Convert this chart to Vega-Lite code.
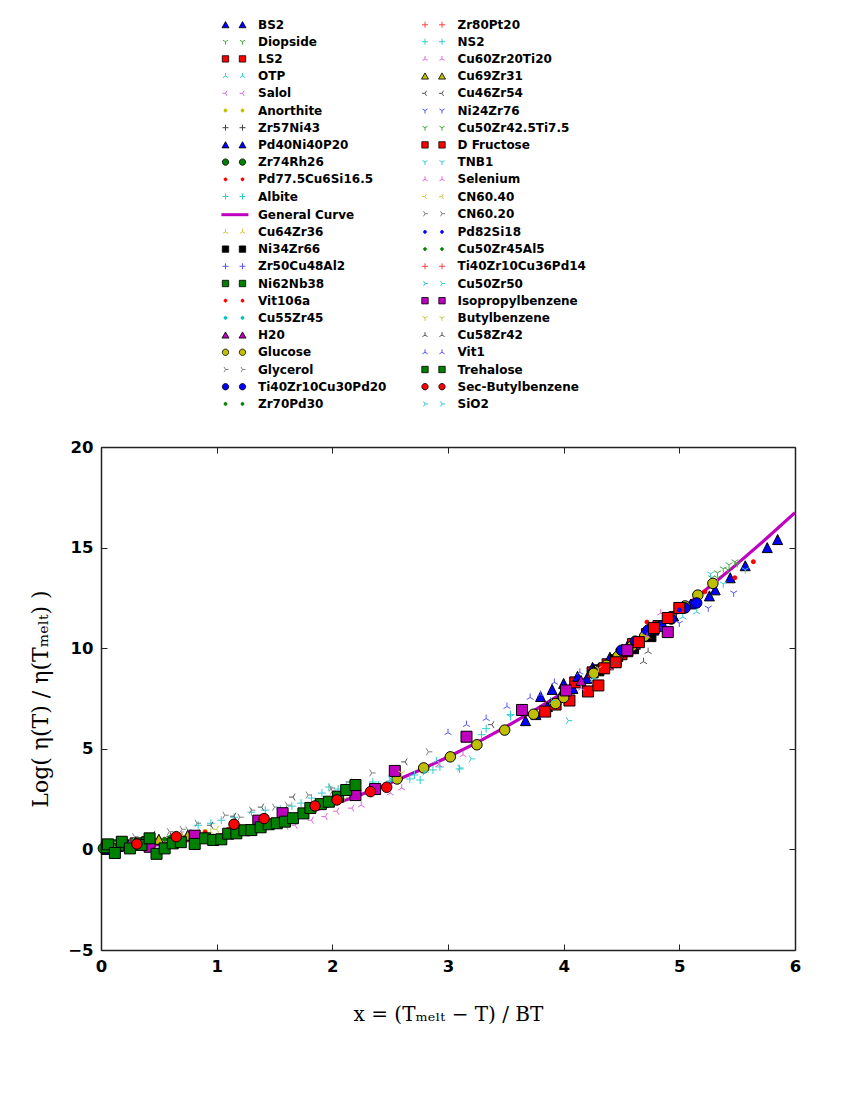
{
  "$schema": "https://vega.github.io/schema/vega-lite/v6.json",
  "width": 694,
  "height": 503,
  "autosize": {"type": "none"},
  "padding": {"left": 101, "top": 447, "right": 63, "bottom": 160},
  "background": "white",
  "data": {"values": [
    {"series":"BS2","x":3.67,"y":6.4},{"series":"BS2","x":3.76,"y":6.7},{"series":"BS2","x":3.86,"y":7.1},{"series":"BS2","x":3.97,"y":7.6},{"series":"BS2","x":4.08,"y":8.0},{"series":"BS2","x":4.2,"y":8.5},{"series":"BS2","x":4.33,"y":9.0},{"series":"BS2","x":4.47,"y":9.6},{"series":"BS2","x":4.62,"y":10.3},{"series":"BS2","x":4.78,"y":10.9},{"series":"BS2","x":4.95,"y":11.6},{"series":"BS2","x":5.1,"y":12.2},{"series":"BS2","x":5.26,"y":12.6},{"series":"BS2","x":5.31,"y":12.9},{"series":"BS2","x":5.44,"y":13.5},{"series":"BS2","x":5.57,"y":14.1},{"series":"BS2","x":5.76,"y":15.0},{"series":"BS2","x":5.85,"y":15.4},
    {"series":"Diopside","x":5.28,"y":13.5},{"series":"Diopside","x":5.33,"y":13.75},{"series":"Diopside","x":5.38,"y":13.95},{"series":"Diopside","x":5.43,"y":14.15},{"series":"Diopside","x":5.48,"y":14.3},{"series":"Diopside","x":4.6,"y":10.4},{"series":"Diopside","x":4.75,"y":11.1},
    {"series":"LS2","x":3.84,"y":6.85},{"series":"LS2","x":3.93,"y":7.2},{"series":"LS2","x":4.05,"y":7.4},{"series":"LS2","x":4.21,"y":7.85},{"series":"LS2","x":4.3,"y":8.15},{"series":"LS2","x":4.1,"y":8.3},{"series":"LS2","x":4.25,"y":8.8},{"series":"LS2","x":4.38,"y":9.2},{"series":"LS2","x":4.5,"y":9.7},{"series":"LS2","x":4.6,"y":10.2},{"series":"LS2","x":4.72,"y":10.7},{"series":"LS2","x":4.82,"y":11.1},
    {"series":"OTP","x":4.6,"y":10.0},{"series":"OTP","x":4.85,"y":10.9},{"series":"OTP","x":5.03,"y":11.55},{"series":"OTP","x":5.15,"y":11.8},{"series":"OTP","x":2.4,"y":3.2},{"series":"OTP","x":2.9,"y":4.4},
    {"series":"Salol","x":1.6,"y":1.15},{"series":"Salol","x":1.68,"y":1.2},{"series":"Salol","x":1.82,"y":1.45},{"series":"Salol","x":1.94,"y":1.63},{"series":"Salol","x":2.04,"y":1.9},{"series":"Salol","x":2.17,"y":2.05},
    {"series":"Anorthite","x":0.2,"y":0.3},{"series":"Anorthite","x":0.5,"y":0.55},{"series":"Anorthite","x":0.9,"y":0.9},{"series":"Anorthite","x":1.2,"y":1.15},{"series":"Anorthite","x":4.4,"y":9.4},{"series":"Anorthite","x":4.9,"y":11.5},
    {"series":"Zr57Ni43","x":0.05,"y":0.2},{"series":"Zr57Ni43","x":0.15,"y":0.3},{"series":"Zr57Ni43","x":0.3,"y":0.45},{"series":"Zr57Ni43","x":0.45,"y":0.5},{"series":"Zr57Ni43","x":0.6,"y":0.65},
    {"series":"Pd40Ni40P20","x":3.8,"y":7.6},{"series":"Pd40Ni40P20","x":3.9,"y":7.95},{"series":"Pd40Ni40P20","x":4.0,"y":8.25},{"series":"Pd40Ni40P20","x":4.12,"y":8.6},{"series":"Pd40Ni40P20","x":4.25,"y":9.05},{"series":"Pd40Ni40P20","x":4.4,"y":9.55},{"series":"Pd40Ni40P20","x":4.55,"y":10.1},{"series":"Pd40Ni40P20","x":4.7,"y":10.75},{"series":"Pd40Ni40P20","x":0.05,"y":0.0},{"series":"Pd40Ni40P20","x":0.15,"y":0.15},
    {"series":"Zr74Rh26","x":0.02,"y":0.05},{"series":"Zr74Rh26","x":0.1,"y":0.15},{"series":"Zr74Rh26","x":0.2,"y":0.25},{"series":"Zr74Rh26","x":0.35,"y":0.3},
    {"series":"Pd77.5Cu6Si16.5","x":0.1,"y":0.2},{"series":"Pd77.5Cu6Si16.5","x":0.3,"y":0.35},{"series":"Pd77.5Cu6Si16.5","x":0.55,"y":0.5},{"series":"Pd77.5Cu6Si16.5","x":0.8,"y":0.75},{"series":"Pd77.5Cu6Si16.5","x":4.6,"y":10.3},{"series":"Pd77.5Cu6Si16.5","x":4.72,"y":11.3},{"series":"Pd77.5Cu6Si16.5","x":5.22,"y":12.8},{"series":"Pd77.5Cu6Si16.5","x":5.48,"y":13.5},{"series":"Pd77.5Cu6Si16.5","x":5.64,"y":14.3},
    {"series":"Albite","x":0.84,"y":1.2},{"series":"Albite","x":0.95,"y":1.3},{"series":"Albite","x":1.04,"y":1.45},{"series":"Albite","x":1.15,"y":1.6},{"series":"Albite","x":1.3,"y":1.85},{"series":"Albite","x":1.42,"y":1.95},{"series":"Albite","x":1.55,"y":2.0},{"series":"Albite","x":1.65,"y":2.15},{"series":"Albite","x":1.73,"y":2.3},{"series":"Albite","x":1.82,"y":2.55},{"series":"Albite","x":1.91,"y":2.8},{"series":"Albite","x":1.97,"y":3.1},{"series":"Albite","x":2.05,"y":3.0},{"series":"Albite","x":2.12,"y":3.1},
    {"series":"General Curve","x":0,"y":0},{"series":"General Curve","x":0.25,"y":0.09},{"series":"General Curve","x":0.5,"y":0.24},{"series":"General Curve","x":0.75,"y":0.44},{"series":"General Curve","x":1,"y":0.69},{"series":"General Curve","x":1.25,"y":0.99},{"series":"General Curve","x":1.5,"y":1.35},{"series":"General Curve","x":1.75,"y":1.76},{"series":"General Curve","x":2,"y":2.22},{"series":"General Curve","x":2.25,"y":2.73},{"series":"General Curve","x":2.5,"y":3.3},{"series":"General Curve","x":2.75,"y":3.92},{"series":"General Curve","x":3,"y":4.59},{"series":"General Curve","x":3.25,"y":5.31},{"series":"General Curve","x":3.5,"y":6.09},{"series":"General Curve","x":3.75,"y":6.92},{"series":"General Curve","x":4,"y":7.8},{"series":"General Curve","x":4.25,"y":8.73},{"series":"General Curve","x":4.5,"y":9.72},{"series":"General Curve","x":4.75,"y":10.76},{"series":"General Curve","x":5,"y":11.85},{"series":"General Curve","x":5.25,"y":13.0},{"series":"General Curve","x":5.5,"y":14.19},{"series":"General Curve","x":5.75,"y":15.44},{"series":"General Curve","x":6,"y":16.74},
    {"series":"Cu64Zr36","x":0.05,"y":0.1},{"series":"Cu64Zr36","x":0.25,"y":0.3},{"series":"Cu64Zr36","x":0.45,"y":0.45},{"series":"Cu64Zr36","x":0.7,"y":0.6},{"series":"Cu64Zr36","x":0.95,"y":0.85},
    {"series":"Ni34Zr66","x":0.1,"y":0.1},{"series":"Ni34Zr66","x":0.25,"y":0.2},{"series":"Ni34Zr66","x":0.4,"y":0.35},{"series":"Ni34Zr66","x":4.3,"y":8.9},{"series":"Ni34Zr66","x":4.45,"y":9.4},{"series":"Ni34Zr66","x":4.6,"y":10.0},{"series":"Ni34Zr66","x":4.75,"y":10.6},
    {"series":"Zr50Cu48Al2","x":0.1,"y":0.25},{"series":"Zr50Cu48Al2","x":0.3,"y":0.4},{"series":"Zr50Cu48Al2","x":0.5,"y":0.55},{"series":"Zr50Cu48Al2","x":0.7,"y":0.7},
    {"series":"Ni62Nb38","x":0.05,"y":0.1},{"series":"Ni62Nb38","x":0.15,"y":0.2},{"series":"Ni62Nb38","x":0.3,"y":0.3},{"series":"Ni62Nb38","x":0.4,"y":0.35},
    {"series":"Vit106a","x":0.2,"y":0.2},{"series":"Vit106a","x":0.4,"y":0.4},{"series":"Vit106a","x":0.65,"y":0.6},{"series":"Vit106a","x":0.9,"y":0.85},{"series":"Vit106a","x":1.1,"y":1.0},{"series":"Vit106a","x":4.35,"y":9.2},{"series":"Vit106a","x":4.55,"y":10.0},{"series":"Vit106a","x":4.8,"y":11.2},
    {"series":"Cu55Zr45","x":0.1,"y":0.2},{"series":"Cu55Zr45","x":0.35,"y":0.4},{"series":"Cu55Zr45","x":0.6,"y":0.55},{"series":"Cu55Zr45","x":0.85,"y":0.75},
    {"series":"H20","x":4.15,"y":8.4},{"series":"H20","x":4.3,"y":9.0},{"series":"H20","x":4.45,"y":9.5},{"series":"H20","x":4.62,"y":10.2},
    {"series":"Glucose","x":2.56,"y":3.5},{"series":"Glucose","x":2.79,"y":4.05},{"series":"Glucose","x":3.02,"y":4.6},{"series":"Glucose","x":3.25,"y":5.2},{"series":"Glucose","x":3.49,"y":5.93},{"series":"Glucose","x":3.74,"y":6.72},{"series":"Glucose","x":3.93,"y":7.25},{"series":"Glucose","x":4.0,"y":7.55},{"series":"Glucose","x":4.26,"y":8.75},{"series":"Glucose","x":4.37,"y":9.15},{"series":"Glucose","x":4.47,"y":9.6},{"series":"Glucose","x":4.59,"y":10.1},{"series":"Glucose","x":4.7,"y":10.6},{"series":"Glucose","x":4.82,"y":11.1},{"series":"Glucose","x":4.93,"y":11.57},{"series":"Glucose","x":5.05,"y":12.1},{"series":"Glucose","x":5.16,"y":12.64},{"series":"Glucose","x":5.29,"y":13.22},
    {"series":"Glycerol","x":0.29,"y":0.63},{"series":"Glycerol","x":0.59,"y":0.88},{"series":"Glycerol","x":0.75,"y":0.96},{"series":"Glycerol","x":0.83,"y":1.3},{"series":"Glycerol","x":1.07,"y":1.7},{"series":"Glycerol","x":1.3,"y":1.95},{"series":"Glycerol","x":1.61,"y":2.2},{"series":"Glycerol","x":1.79,"y":2.7},{"series":"Glycerol","x":1.99,"y":3.05},{"series":"Glycerol","x":2.34,"y":3.8},{"series":"Glycerol","x":2.83,"y":4.85},
    {"series":"Ti40Zr10Cu30Pd20","x":4.73,"y":10.9},{"series":"Ti40Zr10Cu30Pd20","x":4.84,"y":11.1},{"series":"Ti40Zr10Cu30Pd20","x":4.93,"y":11.45},{"series":"Ti40Zr10Cu30Pd20","x":5.05,"y":12.0},{"series":"Ti40Zr10Cu30Pd20","x":5.15,"y":12.25},{"series":"Ti40Zr10Cu30Pd20","x":4.5,"y":9.9},{"series":"Ti40Zr10Cu30Pd20","x":4.62,"y":10.35},
    {"series":"Zr70Pd30","x":0.05,"y":0.15},{"series":"Zr70Pd30","x":0.2,"y":0.3},{"series":"Zr70Pd30","x":0.4,"y":0.45},{"series":"Zr70Pd30","x":0.6,"y":0.6},
    {"series":"Zr80Pt20","x":0.05,"y":0.2},{"series":"Zr80Pt20","x":0.15,"y":0.25},{"series":"Zr80Pt20","x":0.3,"y":0.4},{"series":"Zr80Pt20","x":0.5,"y":0.5},{"series":"Zr80Pt20","x":0.7,"y":0.65},
    {"series":"NS2","x":2.2,"y":3.2},{"series":"NS2","x":2.35,"y":3.35},{"series":"NS2","x":2.5,"y":3.4},{"series":"NS2","x":2.67,"y":3.5},{"series":"NS2","x":2.71,"y":3.7},{"series":"NS2","x":2.76,"y":3.45},{"series":"NS2","x":2.87,"y":3.95},{"series":"NS2","x":2.93,"y":4.1},{"series":"NS2","x":3.1,"y":4.0},{"series":"NS2","x":3.29,"y":5.7},{"series":"NS2","x":3.33,"y":6.0},{"series":"NS2","x":3.54,"y":6.7},
    {"series":"Cu60Zr20Ti20","x":4.15,"y":8.0},{"series":"Cu60Zr20Ti20","x":4.4,"y":9.0},{"series":"Cu60Zr20Ti20","x":4.72,"y":10.6},{"series":"Cu60Zr20Ti20","x":4.84,"y":11.75},
    {"series":"Cu69Zr31","x":0.1,"y":0.25},{"series":"Cu69Zr31","x":0.3,"y":0.35},{"series":"Cu69Zr31","x":0.5,"y":0.5},{"series":"Cu69Zr31","x":0.75,"y":0.7},
    {"series":"Cu46Zr54","x":0.45,"y":0.75},{"series":"Cu46Zr54","x":0.95,"y":1.2},{"series":"Cu46Zr54","x":1.15,"y":1.65},{"series":"Cu46Zr54","x":1.39,"y":2.1},{"series":"Cu46Zr54","x":1.66,"y":2.6},{"series":"Cu46Zr54","x":2.15,"y":3.35},{"series":"Cu46Zr54","x":2.63,"y":4.35},{"series":"Cu46Zr54","x":3.38,"y":6.2},
    {"series":"Ni24Zr76","x":4.85,"y":11.0},{"series":"Ni24Zr76","x":5.0,"y":11.25},{"series":"Ni24Zr76","x":5.25,"y":12.0},{"series":"Ni24Zr76","x":5.47,"y":12.75},
    {"series":"Cu50Zr42.5Ti7.5","x":5.33,"y":13.5},{"series":"Cu50Zr42.5Ti7.5","x":5.42,"y":13.9},{"series":"Cu50Zr42.5Ti7.5","x":5.5,"y":14.2},{"series":"Cu50Zr42.5Ti7.5","x":4.9,"y":11.6},
    {"series":"D Fructose","x":4.35,"y":9.0},{"series":"D Fructose","x":4.45,"y":9.3},{"series":"D Fructose","x":4.55,"y":9.85},{"series":"D Fructose","x":4.65,"y":10.3},{"series":"D Fructose","x":4.78,"y":11.0},{"series":"D Fructose","x":4.9,"y":11.5},{"series":"D Fructose","x":5.0,"y":12.0},
    {"series":"TNB1","x":3.54,"y":6.6},{"series":"TNB1","x":5.27,"y":13.7},{"series":"TNB1","x":5.38,"y":13.2},{"series":"TNB1","x":5.57,"y":13.9},
    {"series":"Selenium","x":2.25,"y":2.2},{"series":"Selenium","x":2.5,"y":2.8},{"series":"Selenium","x":2.6,"y":3.05},{"series":"Selenium","x":2.92,"y":4.2},{"series":"Selenium","x":3.13,"y":4.7},
    {"series":"CN60.40","x":0.15,"y":0.35},{"series":"CN60.40","x":0.4,"y":0.5},{"series":"CN60.40","x":0.7,"y":0.75},{"series":"CN60.40","x":1.0,"y":1.0},
    {"series":"CN60.20","x":0.7,"y":1.0},{"series":"CN60.20","x":1.2,"y":1.6},{"series":"CN60.20","x":1.5,"y":2.1},{"series":"CN60.20","x":2.0,"y":2.9},
    {"series":"Pd82Si18","x":0.05,"y":0.1},{"series":"Pd82Si18","x":0.25,"y":0.3},{"series":"Pd82Si18","x":0.45,"y":0.4},{"series":"Pd82Si18","x":4.7,"y":10.8},{"series":"Pd82Si18","x":5.0,"y":11.9},
    {"series":"Cu50Zr45Al5","x":0.1,"y":0.2},{"series":"Cu50Zr45Al5","x":0.3,"y":0.3},{"series":"Cu50Zr45Al5","x":0.55,"y":0.5},
    {"series":"Ti40Zr10Cu36Pd14","x":0.08,"y":0.15},{"series":"Ti40Zr10Cu36Pd14","x":0.25,"y":0.35},{"series":"Ti40Zr10Cu36Pd14","x":0.45,"y":0.45},{"series":"Ti40Zr10Cu36Pd14","x":0.65,"y":0.6},{"series":"Ti40Zr10Cu36Pd14","x":0.85,"y":0.8},
    {"series":"Cu50Zr50","x":4.04,"y":6.4},{"series":"Cu50Zr50","x":3.1,"y":4.05},{"series":"Cu50Zr50","x":3.9,"y":7.4},
    {"series":"Isopropylbenzene","x":0.42,"y":0.13},{"series":"Isopropylbenzene","x":0.81,"y":0.68},{"series":"Isopropylbenzene","x":1.36,"y":1.43},{"series":"Isopropylbenzene","x":1.57,"y":1.8},{"series":"Isopropylbenzene","x":2.2,"y":2.7},{"series":"Isopropylbenzene","x":2.37,"y":3.0},{"series":"Isopropylbenzene","x":2.54,"y":3.9},{"series":"Isopropylbenzene","x":3.16,"y":5.6},{"series":"Isopropylbenzene","x":3.64,"y":6.93},{"series":"Isopropylbenzene","x":4.02,"y":7.9},{"series":"Isopropylbenzene","x":4.55,"y":9.9},{"series":"Isopropylbenzene","x":4.9,"y":10.8},
    {"series":"Butylbenzene","x":2.1,"y":2.5},{"series":"Butylbenzene","x":2.6,"y":3.8},{"series":"Butylbenzene","x":4.3,"y":9.0},
    {"series":"Cu58Zr42","x":4.73,"y":9.83},{"series":"Cu58Zr42","x":4.69,"y":9.33},{"series":"Cu58Zr42","x":4.45,"y":9.3},
    {"series":"Vit1","x":3.0,"y":5.8},{"series":"Vit1","x":3.16,"y":6.2},{"series":"Vit1","x":3.33,"y":6.5},{"series":"Vit1","x":3.51,"y":7.1},{"series":"Vit1","x":3.71,"y":7.55},{"series":"Vit1","x":3.8,"y":7.7},{"series":"Vit1","x":3.92,"y":8.3},{"series":"Vit1","x":4.14,"y":8.8},
    {"series":"Trehalose","x":0.06,"y":0.25},{"series":"Trehalose","x":0.12,"y":-0.18},{"series":"Trehalose","x":0.18,"y":0.38},{"series":"Trehalose","x":0.25,"y":0.05},{"series":"Trehalose","x":0.35,"y":0.22},{"series":"Trehalose","x":0.42,"y":0.55},{"series":"Trehalose","x":0.48,"y":-0.22},{"series":"Trehalose","x":0.55,"y":0.05},{"series":"Trehalose","x":0.62,"y":0.3},{"series":"Trehalose","x":0.69,"y":0.36},{"series":"Trehalose","x":0.81,"y":0.27},{"series":"Trehalose","x":0.9,"y":0.55},{"series":"Trehalose","x":0.97,"y":0.47},{"series":"Trehalose","x":1.04,"y":0.5},{"series":"Trehalose","x":1.1,"y":0.78},{"series":"Trehalose","x":1.17,"y":0.8},{"series":"Trehalose","x":1.24,"y":0.95},{"series":"Trehalose","x":1.3,"y":0.96},{"series":"Trehalose","x":1.38,"y":1.1},{"series":"Trehalose","x":1.45,"y":1.25},{"series":"Trehalose","x":1.52,"y":1.3},{"series":"Trehalose","x":1.59,"y":1.38},{"series":"Trehalose","x":1.66,"y":1.55},{"series":"Trehalose","x":1.75,"y":1.79},{"series":"Trehalose","x":1.81,"y":2.06},{"series":"Trehalose","x":1.9,"y":2.25},{"series":"Trehalose","x":1.97,"y":2.37},{"series":"Trehalose","x":2.05,"y":2.62},{"series":"Trehalose","x":2.12,"y":2.95},{"series":"Trehalose","x":2.2,"y":3.2},
    {"series":"Sec-Butylbenzene","x":0.31,"y":0.27},{"series":"Sec-Butylbenzene","x":0.65,"y":0.63},{"series":"Sec-Butylbenzene","x":1.15,"y":1.25},{"series":"Sec-Butylbenzene","x":1.41,"y":1.53},{"series":"Sec-Butylbenzene","x":1.85,"y":2.16},{"series":"Sec-Butylbenzene","x":2.04,"y":2.46},{"series":"Sec-Butylbenzene","x":2.33,"y":2.87},{"series":"Sec-Butylbenzene","x":2.47,"y":3.09},
    {"series":"SiO2","x":2.5,"y":3.5},{"series":"SiO2","x":2.8,"y":3.85},{"series":"SiO2","x":3.2,"y":4.5},{"series":"SiO2","x":4.25,"y":8.5}
  ]},
  "resolve": {
    "axis": {"x": "independent", "y": "independent"},
    "scale": {"fill": "independent", "stroke": "independent", "shape": "independent", "size": "independent", "strokeWidth": "independent"},
    "legend": {"fill": "independent", "stroke": "independent", "shape": "independent", "size": "independent", "strokeWidth": "independent"}
  },
  "layer": [
    {
      "transform": [{"filter": "datum.series === 'General Curve'"}],
      "mark": {"type": "line", "color": "#bf00bf", "strokeWidth": 3.2},
      "encoding": {
        "x": {"field": "x", "type": "quantitative", "scale": {"domain": [0, 6], "nice": false, "zero": false},
              "axis": {"orient": "top", "labels": false, "title": null, "values": [0,1,2,3,4,5,6]}},
        "y": {"field": "y", "type": "quantitative", "scale": {"domain": [-5, 20], "nice": false, "zero": false},
              "axis": {"orient": "right", "labels": false, "title": null, "values": [-5,0,5,10,15,20]}}
      }
    },
    {
      "transform": [{"filter": "datum.series !== 'General Curve'"}],
      "mark": {"type": "point", "filled": true, "opacity": 1, "strokeWidth": 1},
      "encoding": {
        "x": {"field": "x", "type": "quantitative", "scale": {"domain": [0, 6], "nice": false, "zero": false},
              "axis": {"orient": "bottom", "values": [0,1,2,3,4,5,6], "title": "x = (Tₘₑₗₜ − T) / BT", "titleFontSize": 20, "titlePadding": 30}},
        "y": {"field": "y", "type": "quantitative", "scale": {"domain": [-5, 20], "nice": false, "zero": false},
              "axis": {"orient": "left", "values": [-5,0,5,10,15,20], "title": "Log( η(T) / η(Tₘₑₗₜ) )", "titleFontSize": 22, "titlePadding": 15}},
        "fill": {"field": "series", "type": "nominal", "legend": null,
          "scale": {"domain": ["BS2","Diopside","LS2","OTP","Salol","Anorthite","Zr57Ni43","Pd40Ni40P20","Zr74Rh26","Pd77.5Cu6Si16.5","Albite","General Curve","Cu64Zr36","Ni34Zr66","Zr50Cu48Al2","Ni62Nb38","Vit106a","Cu55Zr45","H20","Glucose","Glycerol","Ti40Zr10Cu30Pd20","Zr70Pd30","Zr80Pt20","NS2","Cu60Zr20Ti20","Cu69Zr31","Cu46Zr54","Ni24Zr76","Cu50Zr42.5Ti7.5","D Fructose","TNB1","Selenium","CN60.40","CN60.20","Pd82Si18","Cu50Zr45Al5","Ti40Zr10Cu36Pd14","Cu50Zr50","Isopropylbenzene","Butylbenzene","Cu58Zr42","Vit1","Trehalose","Sec-Butylbenzene","SiO2"],
                    "range": ["#0000ff","#44aa44","#ff0000","#33cccc","#dd66dd","#bfbf00","#444444","#0000ff","#008000","#ff0000","#33cccc","#bf00bf","#cccc44","#000000","#5555ff","#008000","#ff0000","#00bfbf","#bf00bf","#bfbf00","#808080","#0000ff","#008000","#ff4444","#33cccc","#dd66dd","#bfbf00","#555555","#5555ff","#44aa44","#ff0000","#33cccc","#dd66dd","#cccc44","#808080","#0000ff","#008000","#ff4444","#33cccc","#bf00bf","#cccc44","#555555","#5555ff","#008000","#ff0000","#33cccc"]}},
        "stroke": {"field": "series", "type": "nominal", "legend": null,
          "scale": {"domain": ["BS2","Diopside","LS2","OTP","Salol","Anorthite","Zr57Ni43","Pd40Ni40P20","Zr74Rh26","Pd77.5Cu6Si16.5","Albite","General Curve","Cu64Zr36","Ni34Zr66","Zr50Cu48Al2","Ni62Nb38","Vit106a","Cu55Zr45","H20","Glucose","Glycerol","Ti40Zr10Cu30Pd20","Zr70Pd30","Zr80Pt20","NS2","Cu60Zr20Ti20","Cu69Zr31","Cu46Zr54","Ni24Zr76","Cu50Zr42.5Ti7.5","D Fructose","TNB1","Selenium","CN60.40","CN60.20","Pd82Si18","Cu50Zr45Al5","Ti40Zr10Cu36Pd14","Cu50Zr50","Isopropylbenzene","Butylbenzene","Cu58Zr42","Vit1","Trehalose","Sec-Butylbenzene","SiO2"],
                    "range": ["#000000","#44aa44","#000000","#33cccc","#dd66dd","#bfbf00","#444444","#000000","#000000","#ff0000","#33cccc","#bf00bf","#cccc44","#000000","#5555ff","#000000","#ff0000","#00bfbf","#000000","#000000","#808080","#000000","#008000","#ff4444","#33cccc","#dd66dd","#000000","#555555","#5555ff","#44aa44","#000000","#33cccc","#dd66dd","#cccc44","#808080","#0000ff","#008000","#ff4444","#33cccc","#000000","#cccc44","#555555","#5555ff","#000000","#000000","#33cccc"]}},
        "shape": {"field": "series", "type": "nominal", "legend": null,
          "scale": {"domain": ["BS2","Diopside","LS2","OTP","Salol","Anorthite","Zr57Ni43","Pd40Ni40P20","Zr74Rh26","Pd77.5Cu6Si16.5","Albite","General Curve","Cu64Zr36","Ni34Zr66","Zr50Cu48Al2","Ni62Nb38","Vit106a","Cu55Zr45","H20","Glucose","Glycerol","Ti40Zr10Cu30Pd20","Zr70Pd30","Zr80Pt20","NS2","Cu60Zr20Ti20","Cu69Zr31","Cu46Zr54","Ni24Zr76","Cu50Zr42.5Ti7.5","D Fructose","TNB1","Selenium","CN60.40","CN60.20","Pd82Si18","Cu50Zr45Al5","Ti40Zr10Cu36Pd14","Cu50Zr50","Isopropylbenzene","Butylbenzene","Cu58Zr42","Vit1","Trehalose","Sec-Butylbenzene","SiO2"],
                    "range": ["M0,-1L1,1L-1,1Z","M0,0L0,1M0,0L-0.866,-0.5M0,0L0.866,-0.5","square","M0,0L0,-1M0,0L-0.866,0.5M0,0L0.866,0.5","M0,0L-1,0M0,0L0.5,-0.866M0,0L0.5,0.866","circle","M-1,0L1,0M0,-1L0,1","M0,-1L1,1L-1,1Z","circle","circle","M-1,0L1,0M0,-1L0,1","stroke","M0,0L0,-1M0,0L-0.866,0.5M0,0L0.866,0.5","square","M-1,0L1,0M0,-1L0,1","square","circle","circle","M0,-1L1,1L-1,1Z","circle","M0,0L1,0M0,0L-0.5,-0.866M0,0L-0.5,0.866","circle","circle","M-1,0L1,0M0,-1L0,1","M-1,0L1,0M0,-1L0,1","M0,0L0,-1M0,0L-0.866,0.5M0,0L0.866,0.5","M0,-1L1,1L-1,1Z","M0,0L-1,0M0,0L0.5,-0.866M0,0L0.5,0.866","M0,0L0,1M0,0L-0.866,-0.5M0,0L0.866,-0.5","M0,0L0,1M0,0L-0.866,-0.5M0,0L0.866,-0.5","square","M0,0L0,1M0,0L-0.866,-0.5M0,0L0.866,-0.5","M0,0L0,-1M0,0L-0.866,0.5M0,0L0.866,0.5","M0,0L-1,0M0,0L0.5,-0.866M0,0L0.5,0.866","M0,0L1,0M0,0L-0.5,-0.866M0,0L-0.5,0.866","circle","circle","M-1,0L1,0M0,-1L0,1","M0,0L1,0M0,0L-0.5,-0.866M0,0L-0.5,0.866","square","M0,0L0,1M0,0L-0.866,-0.5M0,0L0.866,-0.5","M0,0L0,-1M0,0L-0.866,0.5M0,0L0.866,0.5","M0,0L0,-1M0,0L-0.866,0.5M0,0L0.866,0.5","square","circle","M0,0L1,0M0,0L-0.5,-0.866M0,0L-0.5,0.866"]}},
        "size": {"field": "series", "type": "nominal", "legend": null,
          "scale": {"type": "ordinal", "domain": ["BS2","Diopside","LS2","OTP","Salol","Anorthite","Zr57Ni43","Pd40Ni40P20","Zr74Rh26","Pd77.5Cu6Si16.5","Albite","Cu64Zr36","Ni34Zr66","Zr50Cu48Al2","Ni62Nb38","Vit106a","Cu55Zr45","H20","Glucose","Glycerol","Ti40Zr10Cu30Pd20","Zr70Pd30","Zr80Pt20","NS2","Cu60Zr20Ti20","Cu69Zr31","Cu46Zr54","Ni24Zr76","Cu50Zr42.5Ti7.5","D Fructose","TNB1","Selenium","CN60.40","CN60.20","Pd82Si18","Cu50Zr45Al5","Ti40Zr10Cu36Pd14","Cu50Zr50","Isopropylbenzene","Butylbenzene","Cu58Zr42","Vit1","Trehalose","Sec-Butylbenzene","SiO2"],
                    "range": [100,64,121,64,64,16,64,100,110,16,64,64,121,64,121,16,16,100,110,64,110,16,64,64,64,100,64,64,64,121,64,64,64,64,16,16,64,64,121,64,64,64,121,110,64]}}
      }
    },
    {
      "transform": [{"filter": "false"}],
      "mark": {"type": "point", "filled": true, "opacity": 1},
      "encoding": {
        "x": {"field": "x", "type": "quantitative", "axis": null},
        "y": {"field": "y", "type": "quantitative", "axis": null},
        "fill": {"field": "series", "type": "nominal",
          "scale": {"domain": ["BS2","Diopside","LS2","OTP","Salol","Anorthite","Zr57Ni43","Pd40Ni40P20","Zr74Rh26","Pd77.5Cu6Si16.5","Albite","General Curve","Cu64Zr36","Ni34Zr66","Zr50Cu48Al2","Ni62Nb38","Vit106a","Cu55Zr45","H20","Glucose","Glycerol","Ti40Zr10Cu30Pd20","Zr70Pd30","Zr80Pt20","NS2","Cu60Zr20Ti20","Cu69Zr31","Cu46Zr54","Ni24Zr76","Cu50Zr42.5Ti7.5","D Fructose","TNB1","Selenium","CN60.40","CN60.20","Pd82Si18","Cu50Zr45Al5","Ti40Zr10Cu36Pd14","Cu50Zr50","Isopropylbenzene","Butylbenzene","Cu58Zr42","Vit1","Trehalose","Sec-Butylbenzene","SiO2"],
                    "range": ["#0000ff","#44aa44","#ff0000","#33cccc","#dd66dd","#bfbf00","#444444","#0000ff","#008000","#ff0000","#33cccc","#bf00bf","#cccc44","#000000","#5555ff","#008000","#ff0000","#00bfbf","#bf00bf","#bfbf00","#808080","#0000ff","#008000","#ff4444","#33cccc","#dd66dd","#bfbf00","#555555","#5555ff","#44aa44","#ff0000","#33cccc","#dd66dd","#cccc44","#808080","#0000ff","#008000","#ff4444","#33cccc","#bf00bf","#cccc44","#555555","#5555ff","#008000","#ff0000","#33cccc"]},
          "legend": {
            "orient": "none", "legendX": 125.5, "legendY": -429, "columns": 2, "direction": "vertical",
            "title": null, "padding": 0, "symbolSize": 144, "symbolOffset": 0, "labelOffset": 16.5,
            "columnPadding": 32.5, "rowPadding": 4.2, "labelLimit": 300, "symbolLimit": 100,
            "labelFont": "DejaVu Sans", "labelFontWeight": "bold", "labelFontSize": 12, "labelColor": "#000000",
            "symbolOpacity": 1
          }
        },
        "stroke": {"field": "series", "type": "nominal",
          "scale": {"domain": ["BS2","Diopside","LS2","OTP","Salol","Anorthite","Zr57Ni43","Pd40Ni40P20","Zr74Rh26","Pd77.5Cu6Si16.5","Albite","General Curve","Cu64Zr36","Ni34Zr66","Zr50Cu48Al2","Ni62Nb38","Vit106a","Cu55Zr45","H20","Glucose","Glycerol","Ti40Zr10Cu30Pd20","Zr70Pd30","Zr80Pt20","NS2","Cu60Zr20Ti20","Cu69Zr31","Cu46Zr54","Ni24Zr76","Cu50Zr42.5Ti7.5","D Fructose","TNB1","Selenium","CN60.40","CN60.20","Pd82Si18","Cu50Zr45Al5","Ti40Zr10Cu36Pd14","Cu50Zr50","Isopropylbenzene","Butylbenzene","Cu58Zr42","Vit1","Trehalose","Sec-Butylbenzene","SiO2"],
                    "range": ["#000000","#44aa44","#000000","#33cccc","#dd66dd","#bfbf00","#444444","#000000","#000000","#ff0000","#33cccc","#bf00bf","#cccc44","#000000","#5555ff","#000000","#ff0000","#00bfbf","#000000","#000000","#808080","#000000","#008000","#ff4444","#33cccc","#dd66dd","#000000","#555555","#5555ff","#44aa44","#000000","#33cccc","#dd66dd","#cccc44","#808080","#0000ff","#008000","#ff4444","#33cccc","#000000","#cccc44","#555555","#5555ff","#000000","#000000","#33cccc"]}},
        "shape": {"field": "series", "type": "nominal",
          "scale": {"domain": ["BS2","Diopside","LS2","OTP","Salol","Anorthite","Zr57Ni43","Pd40Ni40P20","Zr74Rh26","Pd77.5Cu6Si16.5","Albite","General Curve","Cu64Zr36","Ni34Zr66","Zr50Cu48Al2","Ni62Nb38","Vit106a","Cu55Zr45","H20","Glucose","Glycerol","Ti40Zr10Cu30Pd20","Zr70Pd30","Zr80Pt20","NS2","Cu60Zr20Ti20","Cu69Zr31","Cu46Zr54","Ni24Zr76","Cu50Zr42.5Ti7.5","D Fructose","TNB1","Selenium","CN60.40","CN60.20","Pd82Si18","Cu50Zr45Al5","Ti40Zr10Cu36Pd14","Cu50Zr50","Isopropylbenzene","Butylbenzene","Cu58Zr42","Vit1","Trehalose","Sec-Butylbenzene","SiO2"],
                    "range": [
                      "M-1.4167,-0.5333L-0.8333,0.5L-2,0.5ZM1.4167,-0.5333L2,0.5L0.8333,0.5Z",
                      "M-1.4167,0V0.5M-1.4167,0L-1.8497,-0.25M-1.4167,0L-0.9837,-0.25M1.4167,0V0.5M1.4167,0L0.9837,-0.25M1.4167,0L1.8497,-0.25",
                      "M-1.95,-0.5333H-0.8833V0.5333H-1.95ZM0.8833,-0.5333H1.95V0.5333H0.8833Z",
                      "M-1.4167,0V-0.5M-1.4167,0L-1.8497,0.25M-1.4167,0L-0.9837,0.25M1.4167,0V-0.5M1.4167,0L0.9837,0.25M1.4167,0L1.8497,0.25",
                      "M-1.4167,0H-1.9167M-1.4167,0L-1.1667,-0.433M-1.4167,0L-1.1667,0.433M1.4167,0H0.9167M1.4167,0L1.6667,-0.433M1.4167,0L1.6667,0.433",
                      "M-1.6833,0A0.2667,0.2667 0 1,0 -1.15,0A0.2667,0.2667 0 1,0 -1.6833,0ZM1.15,0A0.2667,0.2667 0 1,0 1.6833,0A0.2667,0.2667 0 1,0 1.15,0Z",
                      "M-1.9167,0H-0.9167M-1.4167,-0.5V0.5M0.9167,0H1.9167M1.4167,-0.5V0.5",
                      "M-1.4167,-0.5333L-0.8333,0.5L-2,0.5ZM1.4167,-0.5333L2,0.5L0.8333,0.5Z",
                      "M-1.95,0A0.5333,0.5333 0 1,0 -0.8833,0A0.5333,0.5333 0 1,0 -1.95,0ZM0.8833,0A0.5333,0.5333 0 1,0 1.95,0A0.5333,0.5333 0 1,0 0.8833,0Z",
                      "M-1.6833,0A0.2667,0.2667 0 1,0 -1.15,0A0.2667,0.2667 0 1,0 -1.6833,0ZM1.15,0A0.2667,0.2667 0 1,0 1.6833,0A0.2667,0.2667 0 1,0 1.15,0Z",
                      "M-1.9167,0H-0.9167M-1.4167,-0.5V0.5M0.9167,0H1.9167M1.4167,-0.5V0.5",
                      "M-2.1,0H2.4",
                      "M-1.4167,0V-0.5M-1.4167,0L-1.8497,0.25M-1.4167,0L-0.9837,0.25M1.4167,0V-0.5M1.4167,0L0.9837,0.25M1.4167,0L1.8497,0.25",
                      "M-1.95,-0.5333H-0.8833V0.5333H-1.95ZM0.8833,-0.5333H1.95V0.5333H0.8833Z",
                      "M-1.9167,0H-0.9167M-1.4167,-0.5V0.5M0.9167,0H1.9167M1.4167,-0.5V0.5",
                      "M-1.95,-0.5333H-0.8833V0.5333H-1.95ZM0.8833,-0.5333H1.95V0.5333H0.8833Z",
                      "M-1.6833,0A0.2667,0.2667 0 1,0 -1.15,0A0.2667,0.2667 0 1,0 -1.6833,0ZM1.15,0A0.2667,0.2667 0 1,0 1.6833,0A0.2667,0.2667 0 1,0 1.15,0Z",
                      "M-1.6833,0A0.2667,0.2667 0 1,0 -1.15,0A0.2667,0.2667 0 1,0 -1.6833,0ZM1.15,0A0.2667,0.2667 0 1,0 1.6833,0A0.2667,0.2667 0 1,0 1.15,0Z",
                      "M-1.4167,-0.5333L-0.8333,0.5L-2,0.5ZM1.4167,-0.5333L2,0.5L0.8333,0.5Z",
                      "M-1.95,0A0.5333,0.5333 0 1,0 -0.8833,0A0.5333,0.5333 0 1,0 -1.95,0ZM0.8833,0A0.5333,0.5333 0 1,0 1.95,0A0.5333,0.5333 0 1,0 0.8833,0Z",
                      "M-1.4167,0H-0.9167M-1.4167,0L-1.6667,-0.433M-1.4167,0L-1.6667,0.433M1.4167,0H1.9167M1.4167,0L1.1667,-0.433M1.4167,0L1.1667,0.433",
                      "M-1.95,0A0.5333,0.5333 0 1,0 -0.8833,0A0.5333,0.5333 0 1,0 -1.95,0ZM0.8833,0A0.5333,0.5333 0 1,0 1.95,0A0.5333,0.5333 0 1,0 0.8833,0Z",
                      "M-1.6833,0A0.2667,0.2667 0 1,0 -1.15,0A0.2667,0.2667 0 1,0 -1.6833,0ZM1.15,0A0.2667,0.2667 0 1,0 1.6833,0A0.2667,0.2667 0 1,0 1.15,0Z",
                      "M-1.9167,0H-0.9167M-1.4167,-0.5V0.5M0.9167,0H1.9167M1.4167,-0.5V0.5",
                      "M-1.9167,0H-0.9167M-1.4167,-0.5V0.5M0.9167,0H1.9167M1.4167,-0.5V0.5",
                      "M-1.4167,0V-0.5M-1.4167,0L-1.8497,0.25M-1.4167,0L-0.9837,0.25M1.4167,0V-0.5M1.4167,0L0.9837,0.25M1.4167,0L1.8497,0.25",
                      "M-1.4167,-0.5333L-0.8333,0.5L-2,0.5ZM1.4167,-0.5333L2,0.5L0.8333,0.5Z",
                      "M-1.4167,0H-1.9167M-1.4167,0L-1.1667,-0.433M-1.4167,0L-1.1667,0.433M1.4167,0H0.9167M1.4167,0L1.6667,-0.433M1.4167,0L1.6667,0.433",
                      "M-1.4167,0V0.5M-1.4167,0L-1.8497,-0.25M-1.4167,0L-0.9837,-0.25M1.4167,0V0.5M1.4167,0L0.9837,-0.25M1.4167,0L1.8497,-0.25",
                      "M-1.4167,0V0.5M-1.4167,0L-1.8497,-0.25M-1.4167,0L-0.9837,-0.25M1.4167,0V0.5M1.4167,0L0.9837,-0.25M1.4167,0L1.8497,-0.25",
                      "M-1.95,-0.5333H-0.8833V0.5333H-1.95ZM0.8833,-0.5333H1.95V0.5333H0.8833Z",
                      "M-1.4167,0V0.5M-1.4167,0L-1.8497,-0.25M-1.4167,0L-0.9837,-0.25M1.4167,0V0.5M1.4167,0L0.9837,-0.25M1.4167,0L1.8497,-0.25",
                      "M-1.4167,0V-0.5M-1.4167,0L-1.8497,0.25M-1.4167,0L-0.9837,0.25M1.4167,0V-0.5M1.4167,0L0.9837,0.25M1.4167,0L1.8497,0.25",
                      "M-1.4167,0H-1.9167M-1.4167,0L-1.1667,-0.433M-1.4167,0L-1.1667,0.433M1.4167,0H0.9167M1.4167,0L1.6667,-0.433M1.4167,0L1.6667,0.433",
                      "M-1.4167,0H-0.9167M-1.4167,0L-1.6667,-0.433M-1.4167,0L-1.6667,0.433M1.4167,0H1.9167M1.4167,0L1.1667,-0.433M1.4167,0L1.1667,0.433",
                      "M-1.6833,0A0.2667,0.2667 0 1,0 -1.15,0A0.2667,0.2667 0 1,0 -1.6833,0ZM1.15,0A0.2667,0.2667 0 1,0 1.6833,0A0.2667,0.2667 0 1,0 1.15,0Z",
                      "M-1.6833,0A0.2667,0.2667 0 1,0 -1.15,0A0.2667,0.2667 0 1,0 -1.6833,0ZM1.15,0A0.2667,0.2667 0 1,0 1.6833,0A0.2667,0.2667 0 1,0 1.15,0Z",
                      "M-1.9167,0H-0.9167M-1.4167,-0.5V0.5M0.9167,0H1.9167M1.4167,-0.5V0.5",
                      "M-1.4167,0H-0.9167M-1.4167,0L-1.6667,-0.433M-1.4167,0L-1.6667,0.433M1.4167,0H1.9167M1.4167,0L1.1667,-0.433M1.4167,0L1.1667,0.433",
                      "M-1.95,-0.5333H-0.8833V0.5333H-1.95ZM0.8833,-0.5333H1.95V0.5333H0.8833Z",
                      "M-1.4167,0V0.5M-1.4167,0L-1.8497,-0.25M-1.4167,0L-0.9837,-0.25M1.4167,0V0.5M1.4167,0L0.9837,-0.25M1.4167,0L1.8497,-0.25",
                      "M-1.4167,0V-0.5M-1.4167,0L-1.8497,0.25M-1.4167,0L-0.9837,0.25M1.4167,0V-0.5M1.4167,0L0.9837,0.25M1.4167,0L1.8497,0.25",
                      "M-1.4167,0V-0.5M-1.4167,0L-1.8497,0.25M-1.4167,0L-0.9837,0.25M1.4167,0V-0.5M1.4167,0L0.9837,0.25M1.4167,0L1.8497,0.25",
                      "M-1.95,-0.5333H-0.8833V0.5333H-1.95ZM0.8833,-0.5333H1.95V0.5333H0.8833Z",
                      "M-1.95,0A0.5333,0.5333 0 1,0 -0.8833,0A0.5333,0.5333 0 1,0 -1.95,0ZM0.8833,0A0.5333,0.5333 0 1,0 1.95,0A0.5333,0.5333 0 1,0 0.8833,0Z",
                      "M-1.4167,0H-0.9167M-1.4167,0L-1.6667,-0.433M-1.4167,0L-1.6667,0.433M1.4167,0H1.9167M1.4167,0L1.1667,-0.433M1.4167,0L1.1667,0.433"
                    ]}},
        "strokeWidth": {"field": "series", "type": "nominal",
          "scale": {"type": "ordinal", "domain": ["BS2","Diopside","LS2","OTP","Salol","Anorthite","Zr57Ni43","Pd40Ni40P20","Zr74Rh26","Pd77.5Cu6Si16.5","Albite","General Curve","Cu64Zr36","Ni34Zr66","Zr50Cu48Al2","Ni62Nb38","Vit106a","Cu55Zr45","H20","Glucose","Glycerol","Ti40Zr10Cu30Pd20","Zr70Pd30","Zr80Pt20","NS2","Cu60Zr20Ti20","Cu69Zr31","Cu46Zr54","Ni24Zr76","Cu50Zr42.5Ti7.5","D Fructose","TNB1","Selenium","CN60.40","CN60.20","Pd82Si18","Cu50Zr45Al5","Ti40Zr10Cu36Pd14","Cu50Zr50","Isopropylbenzene","Butylbenzene","Cu58Zr42","Vit1","Trehalose","Sec-Butylbenzene","SiO2"],
                    "range": [0.8,1,0.8,1,1,0.5,1,0.8,0.8,0.5,1,3,1,0.8,1,0.8,0.5,0.5,0.8,0.8,1,0.8,0.5,1,1,1,0.8,1,1,1,0.8,1,1,1,1,0.5,0.5,1,1,0.8,1,1,1,0.8,0.8,1]}}
      }
    }
  ],
  "config": {
    "font": "DejaVu Sans",
    "view": {"stroke": null},
    "axis": {
      "grid": false, "domainColor": "#222222", "domainWidth": 1.5, "tickColor": "#222222", "tickSize": -6, "tickWidth": 1,
      "labelFont": "DejaVu Sans", "labelFontWeight": "bold", "labelFontSize": 16.5, "labelColor": "#000000",
      "labelPadding": 14, "labelFlush": false, "labelOverlap": false,
      "titleFont": "DejaVu Serif", "titleFontWeight": "normal", "titleColor": "#000000"
    }
  }
}
